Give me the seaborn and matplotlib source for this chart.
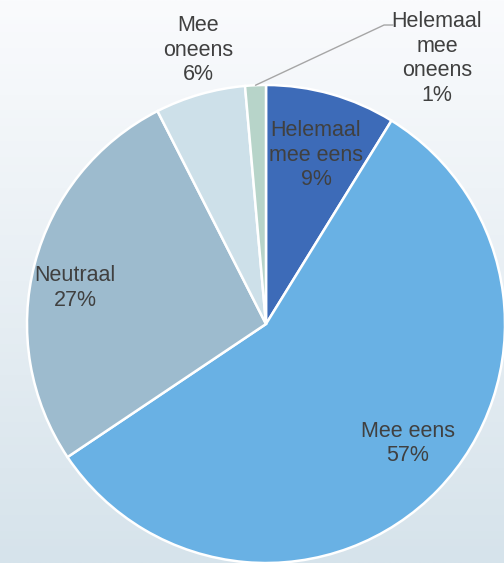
import numpy as np
import matplotlib
matplotlib.use("Agg")
import matplotlib.pyplot as plt
import seaborn as sns

# data (share of answers, %)
categories = ["Helemaal\nmee eens", "Mee eens", "Neutraal", "Mee\noneens", "Helemaal\nmee\noneens"]
values = [8.8, 56.8, 26.9, 6.1, 1.4]
colors = ["#3D6BB8", "#69B1E4", "#9DBBCE", "#CDE0E9", "#B7D4C9"]

sns.set_theme(style="white")
plt.rcParams["font.family"] = ["Liberation Sans", "DejaVu Sans"]

fig = plt.figure(figsize=(5.04, 5.63), dpi=100)

# background gradient
bg = fig.add_axes([0, 0, 1, 1])
grad = np.linspace(0, 1, 256).reshape(-1, 1)
cmap = matplotlib.colors.LinearSegmentedColormap.from_list("bg", ["#FAFBFD", "#D6E3EB"])
bg.imshow(grad, aspect="auto", cmap=cmap, extent=[0, 1, 0, 1], origin="upper")
bg.set_axis_off()

ax = fig.add_axes([0, 0, 1, 1])
ax.patch.set_alpha(0)
wedges, _ = ax.pie(values, colors=colors, startangle=90, counterclock=False,
                   radius=1, wedgeprops=dict(edgecolor="white", linewidth=1.8))

pct = [f"{round(v)}%" for v in values]
# label centres in pie units (radius = 1)
label_xy = [(0.209, 0.707), (0.594, -0.50), (-0.799, 0.150), (-0.285, 1.146), (0.715, 1.110)]
for (x, y), lab, p in zip(label_xy, categories, pct):
    ax.text(x, y, f"{lab}\n{p}", ha="center", va="center",
            fontsize=15.5, color="#404040", linespacing=1.22)

# callout for the smallest slice
w = wedges[4]
mid = np.deg2rad((w.theta1 + w.theta2) / 2)
ax.plot([np.cos(mid), 0.494, 0.531], [np.sin(mid), 1.251, 1.251], color="#A6A6A6", lw=1)

ax.set_xlim(-266 / 239, (504 - 266) / 239)
ax.set_ylim((324 - 563) / 239, 324 / 239)
ax.set_aspect("auto")
ax.set_axis_off()

fig.savefig("out.png", dpi=100)
